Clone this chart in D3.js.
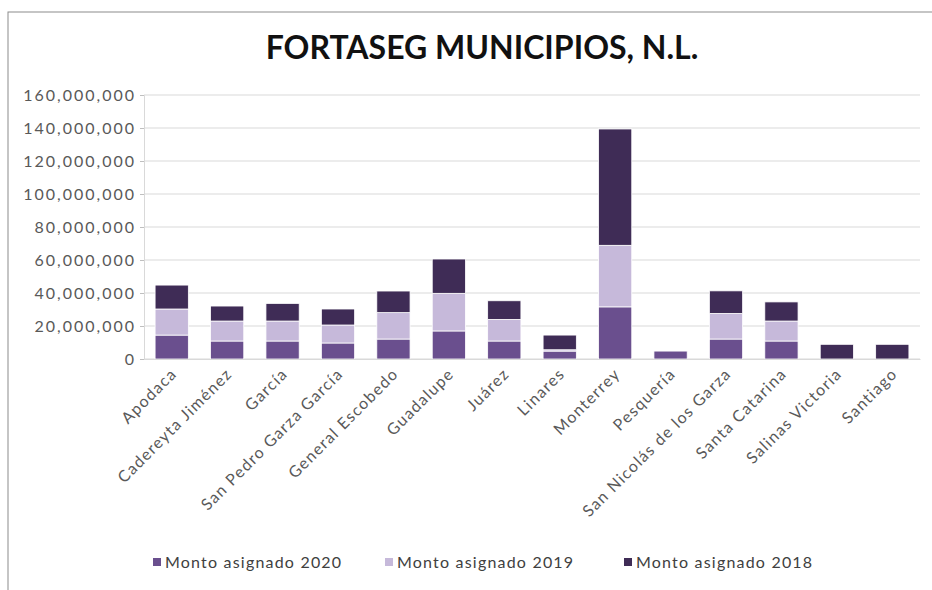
<!DOCTYPE html>
<html>
<head>
<meta charset="utf-8">
<script src="https://cdn.jsdelivr.net/npm/d3@7"></script>
<style>
  body { margin: 0; background: #fff; }
  svg text { font-family: Lato, "Open Sans", sans-serif; }
</style>
</head>
<body>
<div id="chart"></div>
<script>
// municipios and amounts per year
const municipios = ["Apodaca", "Cadereyta Jiménez", "García", "San Pedro Garza García",
  "General Escobedo", "Guadalupe", "Juárez", "Linares", "Monterrey", "Pesquería",
  "San Nicolás de los Garza", "Santa Catarina", "Salinas Victoria", "Santiago"];
const monto2020 = [14.5, 10.9, 10.9, 9.7, 12.1, 17.0, 10.9, 4.8, 31.6, 4.8, 12.1, 10.9, 0, 0].map(v => v * 1e6);
const monto2019 = [15.8, 12.1, 12.1, 10.9, 16.0, 22.8, 13.1, 0.8, 37.3, 0, 15.5, 12.1, 0, 0].map(v => v * 1e6);
const monto2018 = [14.5, 9.1, 10.7, 9.7, 13.1, 20.8, 11.3, 8.9, 70.5, 0, 13.7, 11.6, 8.9, 8.9].map(v => v * 1e6);
const yTicks = [0, 20e6, 40e6, 60e6, 80e6, 100e6, 120e6, 140e6, 160e6];

const series = ["Monto asignado 2020", "Monto asignado 2019", "Monto asignado 2018"];
const colors = ["#6a4f8e", "#c6b9da", "#3f2c56"];

const width = 932, height = 590,
      margin = { top: 95, right: 12, bottom: 231, left: 144 };

const svg = d3.select("#chart").append("svg")
  .attr("width", width)
  .attr("height", height);

// outer frame
svg.append("rect")
  .attr("x", 8).attr("y", 12)
  .attr("width", width + 10).attr("height", height + 10)
  .attr("fill", "none").attr("stroke", "#8c8c8c").attr("stroke-width", 1);

// title
svg.append("text")
  .attr("x", 482).attr("y", 59)
  .attr("text-anchor", "middle")
  .style("font-size", "32px")
  .style("font-weight", "bold")
  .style("fill", "#111")
  .text("FORTASEG MUNICIPIOS, N.L.");

const g = svg.append("g").attr("transform", `translate(${margin.left},${margin.top})`);
const w = width - margin.left - margin.right,
      h = height - margin.top - margin.bottom;

const rows = municipios.map((m, i) => ({
  name: m, s0: monto2020[i], s1: monto2019[i], s2: monto2018[i]
}));
const stacked = d3.stack().keys(["s0", "s1", "s2"])(rows);

const x = d3.scaleBand().domain(municipios).range([0, w]).paddingInner(0.4).paddingOuter(0.2);
const y = d3.scaleLinear().domain([0, 160e6]).range([h, 0]);

// gridlines
g.append("g")
  .selectAll("line")
  .data(yTicks)
  .join("line")
    .attr("x1", 0).attr("x2", w)
    .attr("y1", d => y(d)).attr("y2", d => y(d))
    .attr("stroke", "#d9d9d9").attr("stroke-width", 1.2);

// y axis
const yAxis = g.append("g")
  .call(d3.axisLeft(y).tickValues(yTicks).tickFormat(d3.format(",")).tickSize(4).tickPadding(4));
yAxis.select(".domain").attr("stroke", "#d9d9d9");
yAxis.selectAll(".tick line").attr("stroke", "#bfbfbf");
yAxis.selectAll("text")
  .style("font-size", "16px").style("fill", "#595959")
  .style("letter-spacing", "2px")
  .style("font-family", "Lato, 'Open Sans', sans-serif");

// bars
g.selectAll(".serie")
  .data(stacked)
  .join("g")
    .attr("fill", (d, i) => colors[i])
  .selectAll("rect")
  .data(d => d)
  .join("rect")
    .attr("x", d => x(d.data.name))
    .attr("y", d => y(d[1]))
    .attr("height", d => y(d[0]) - y(d[1]))
    .attr("width", x.bandwidth())
    .attr("stroke", "#fff").attr("stroke-width", 0.8);

// x axis
const xAxis = g.append("g")
  .attr("transform", `translate(0,${h})`)
  .call(d3.axisBottom(x).tickSize(0).tickPadding(0));
xAxis.select(".domain").attr("stroke", "#d9d9d9");
xAxis.selectAll("text")
  .attr("text-anchor", "end")
  .attr("transform", "translate(6,16) rotate(-45)")
  .attr("dy", 0)
  .style("font-size", "16px").style("fill", "#595959")
  .style("letter-spacing", "1.3px")
  .style("font-family", "Lato, 'Open Sans', sans-serif");

// legend
const legendX = [153, 385, 624];
const legend = svg.append("g")
  .selectAll("g")
  .data(series)
  .join("g")
    .attr("transform", (d, i) => `translate(${legendX[i]},563)`);
legend.append("rect")
  .attr("x", 0).attr("y", -5).attr("width", 8).attr("height", 8)
  .attr("fill", (d, i) => colors[i]);
legend.append("text")
  .attr("x", 12).attr("y", 5)
  .style("font-size", "16px").style("fill", "#404040")
  .style("letter-spacing", "1.2px")
  .text(d => d);
</script>
</body>
</html>
